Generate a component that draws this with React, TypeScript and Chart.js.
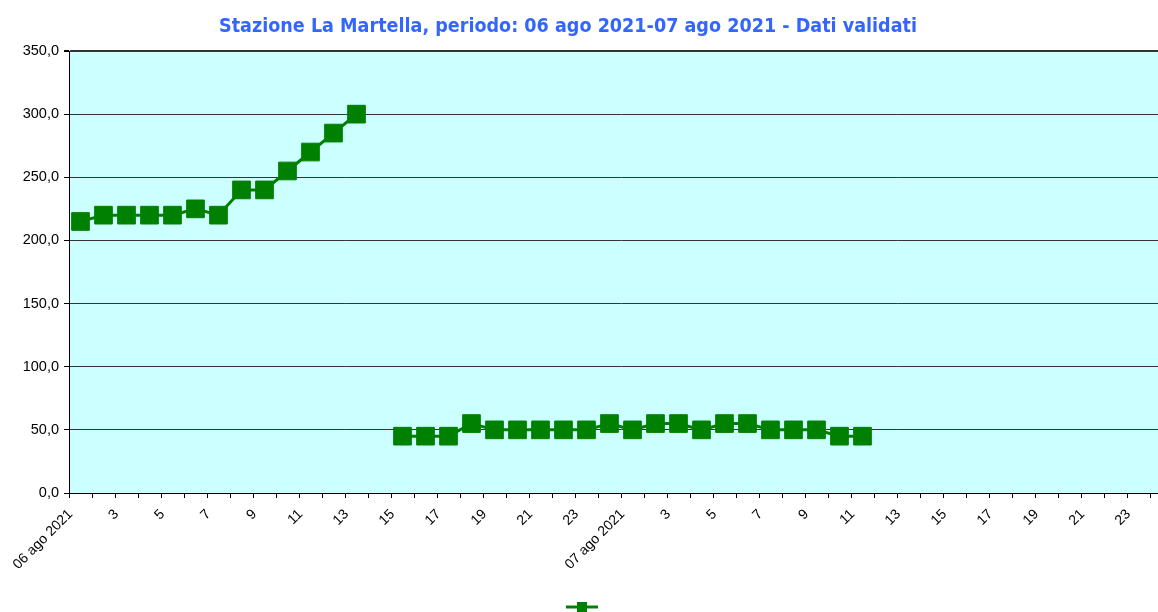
import React, { useEffect, useRef } from "react";
import { Chart, registerables } from "chart.js";

Chart.register(...registerables);

const TITLE = "Stazione La Martella, periodo: 06 ago 2021-07 ago 2021 - Dati validati";

const categories = [
  "06 ago 2021", "2", "3", "4", "5", "6", "7", "8", "9", "10", "11", "12",
  "13", "14", "15", "16", "17", "18", "19", "20", "21", "22", "23", "24",
  "07 ago 2021", "2", "3", "4", "5", "6", "7", "8", "9", "10", "11", "12",
  "13", "14", "15", "16", "17", "18", "19", "20", "21", "22", "23", "24",
];

const values: (number | null)[] = [
  215, 220, 220, 220, 220, 225, 220, 240, 240, 255, 270, 285, 300, null,
  45, 45, 45, 55, 50, 50, 50, 50, 50, 55, 50, 55, 55, 50, 55, 55, 50, 50, 50, 45, 45,
  null, null, null, null, null, null, null, null, null, null, null, null, null,
];

const yTicks = [0, 50, 100, 150, 200, 250, 300, 350];

const GREEN = "#008000";

const decorPlugin = {
  id: "decor",
  beforeDraw(chart: any) {
    const { ctx, chartArea } = chart;
    ctx.save();
    ctx.fillStyle = "#CCFFFF";
    ctx.fillRect(chartArea.left, chartArea.top, chartArea.right - chartArea.left, chartArea.bottom - chartArea.top);
    ctx.restore();
  },
  afterDraw(chart: any) {
    const { ctx } = chart;
    ctx.save();
    ctx.font = 'bold 19px "DejaVu Sans", sans-serif';
    ctx.fillStyle = "#3366FF";
    ctx.textAlign = "center";
    ctx.textBaseline = "alphabetic";
    const w = ctx.measureText(TITLE).width;
    ctx.translate(568, 32);
    ctx.scale(698 / w, 1);
    ctx.fillText(TITLE, 0, 0);
    ctx.restore();

    ctx.save();
    ctx.strokeStyle = GREEN;
    ctx.lineWidth = 3;
    ctx.beginPath();
    ctx.moveTo(566, 607);
    ctx.lineTo(598, 607);
    ctx.stroke();
    ctx.fillStyle = GREEN;
    ctx.fillRect(577, 602, 10, 10);
    ctx.restore();
  },
};

export default function App() {
  const ref = useRef<HTMLCanvasElement | null>(null);
  useEffect(() => {
    if (!ref.current) return;
    const chart = new Chart(ref.current, {
      type: "line",
      data: {
        labels: categories,
        datasets: [
          {
            label: "",
            data: values,
            borderColor: GREEN,
            backgroundColor: GREEN,
            borderWidth: 3,
            pointStyle: "rect",
            pointRadius: 12.5,
            pointBorderWidth: 1,
            pointBackgroundColor: GREEN,
            pointBorderColor: GREEN,
            spanGaps: false,
            tension: 0,
          },
        ],
      },
      options: {
        animation: false,
        responsive: false,
        layout: { padding: { left: 0, right: 17, top: 51, bottom: 0 } },
        plugins: {
          legend: { display: false },
          title: { display: false },
          tooltip: { enabled: false },
        },
        scales: {
          x: {
            type: "category",
            offset: true,
            afterFit: (s: any) => {
              s.height = 119;
            },
            grid: {
              offset: true,
              drawOnChartArea: false,
              drawTicks: true,
              tickLength: 5,
              tickColor: "#000",
            },
            border: { color: "#000", width: 1 },
            ticks: {
              autoSkip: false,
              minRotation: 45,
              maxRotation: 45,
              labelOffset: -10,
              padding: 8,
              color: "#000",
              font: { family: '"Liberation Sans", Arial, sans-serif', size: 14 },
              callback: (_v: any, i: number) => (i % 2 === 0 ? categories[i] : ""),
            },
          },
          y: {
            min: yTicks[0],
            max: yTicks[yTicks.length - 1],
            afterFit: (s: any) => {
              s.width = 69;
            },
            afterBuildTicks: (s: any) => {
              s.ticks = yTicks.map((v) => ({ value: v }));
            },
            grid: {
              color: (c: any) => (c.tick && c.tick.value === 0 ? "rgba(0,0,0,0)" : "#333"),
              lineWidth: (c: any) => (c.tick && c.tick.value === 350 ? 2 : 1),
              tickColor: "#000",
              tickLength: 5,
            },
            border: { color: "#000", width: 1 },
            ticks: {
              padding: 5,
              color: "#000",
              font: { family: '"Liberation Sans", Arial, sans-serif', size: 14.5 },
              callback: (v: any) => Number(v).toFixed(1).replace(".", ","),
            },
          },
        },
      },
      plugins: [decorPlugin],
    });
    return () => chart.destroy();
  }, []);

  return (
    <div style={{ position: "absolute", left: 0, top: 0, width: 1158, height: 612, overflow: "hidden", background: "#fff" }}>
      <canvas ref={ref} width={1190} height={612} style={{ width: 1190, height: 612, display: "block" }} />
    </div>
  );
}
